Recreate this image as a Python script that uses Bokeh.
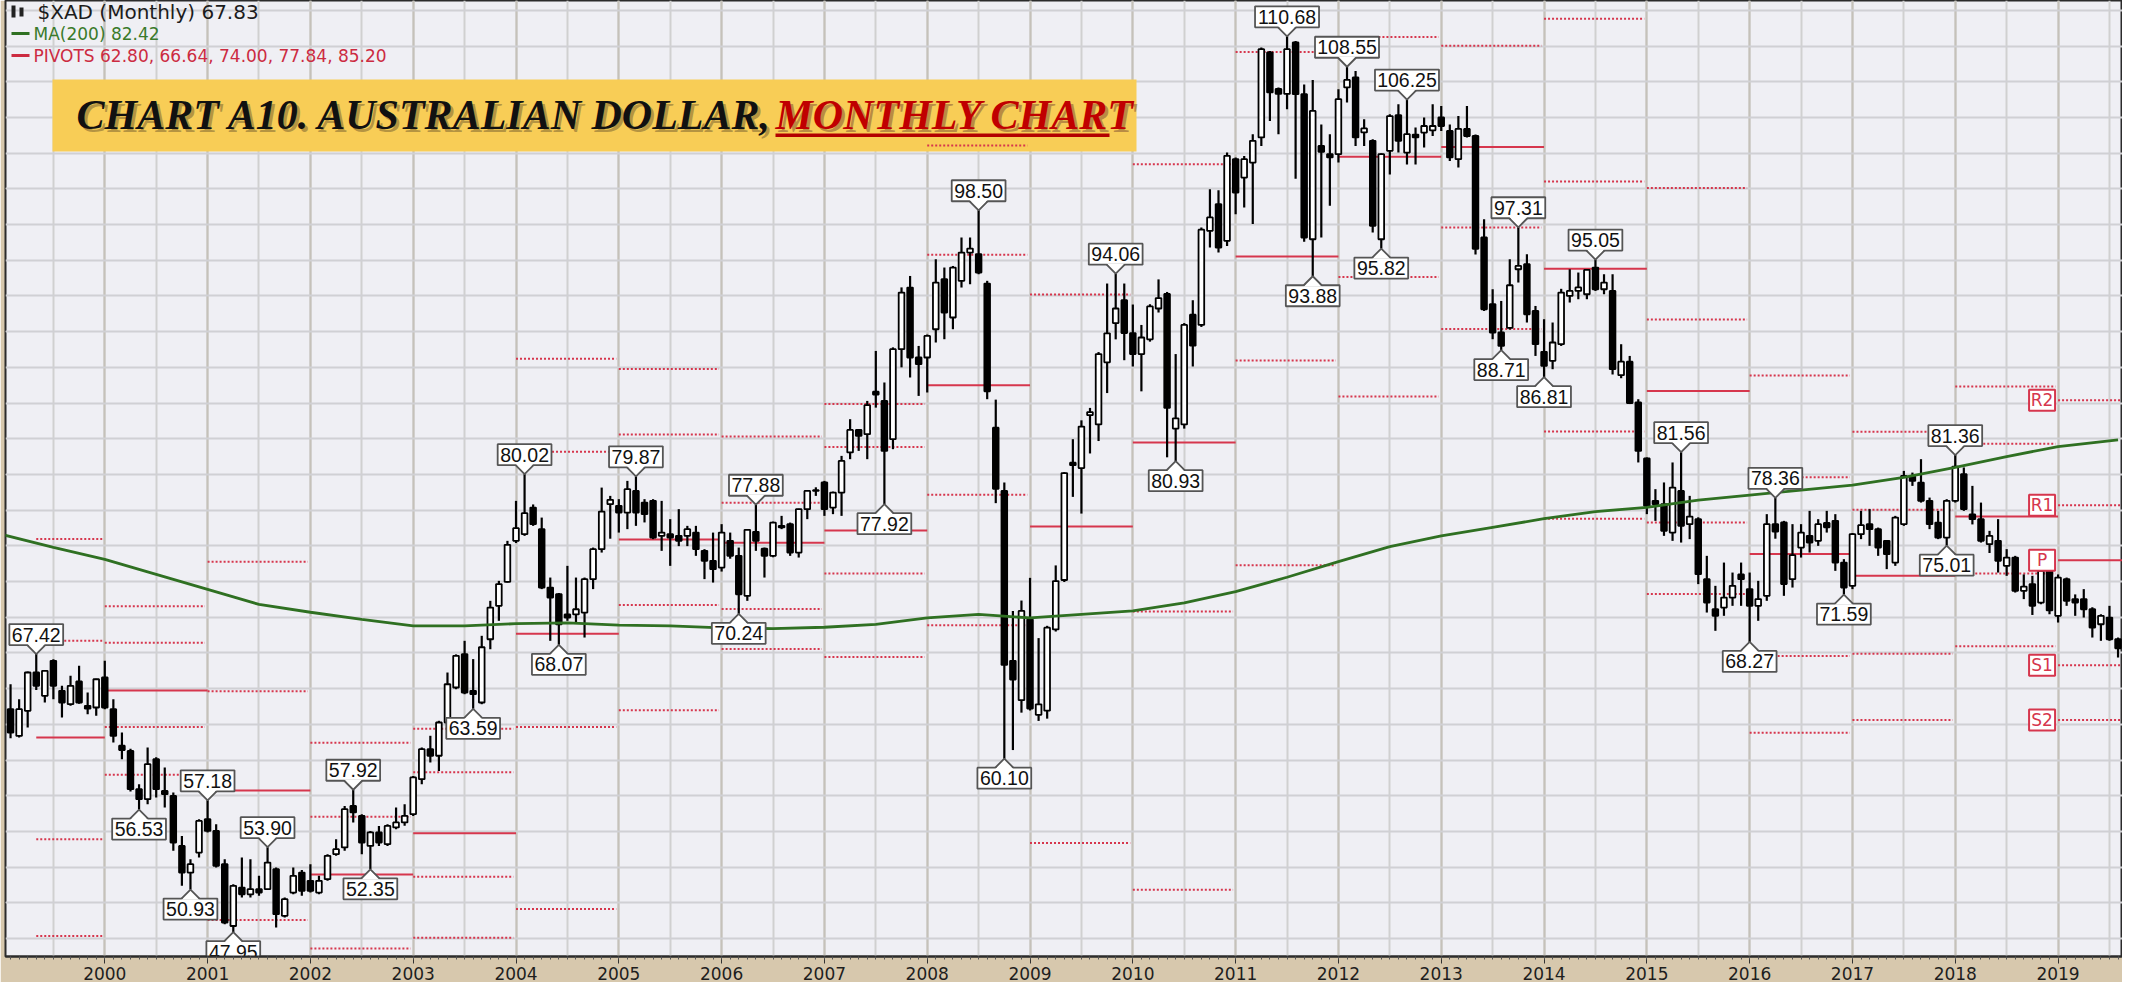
import numpy as np
from bokeh.plotting import figure
from bokeh.models import Range1d, FixedTicker, Grid, Label, BoxAnnotation
from bokeh.core.properties import value
from bokeh.embed import file_html
from bokeh.resources import INLINE

# ---------------- data (month index: 0 = Jan 2000) ----------------
first_month = -11  # Feb 1999

opens = [
    63.56, 61.69, 63.45, 66.13, 64.50, 66.95, 64.85, 63.91, 65.50, 63.80, 63.68,
    65.78, 63.56, 61.00, 60.64, 57.96, 57.26, 60.06, 57.84, 57.49, 53.99, 52.12, 53.52,
    55.86, 55.04, 52.71, 48.38, 51.07, 50.60, 50.96, 50.96, 52.36, 49.09, 50.72, 52.12,
    51.54, 50.72, 51.66, 53.41, 53.88, 56.79, 56.09, 53.99, 54.93, 54.11, 55.28, 55.63,
    56.21, 58.66, 60.76, 60.30, 62.63, 65.08, 67.41, 64.85, 64.03, 68.46, 70.80, 72.48,
    75.35, 75.82, 77.68, 76.17, 72.08, 71.61, 70.20, 70.20, 70.33, 72.67, 74.77, 77.92,
    77.80, 77.33, 78.85, 78.03, 78.15, 75.70, 75.82, 75.70, 75.70, 75.93, 74.65, 73.95,
    73.48, 75.35, 74.30, 71.50, 75.98, 74.80, 74.30, 76.40, 76.52, 74.53, 77.57, 78.85,
    79.44, 77.68, 78.73, 81.54, 83.12, 82.82, 85.80, 85.15, 82.47, 88.77, 93.09, 88.19,
    88.19, 90.17, 93.67, 90.99, 93.56, 95.54, 95.42, 93.37, 83.27, 78.85, 66.95, 64.19,
    69.85, 63.17, 63.46, 69.15, 72.61, 80.82, 80.45, 84.15, 83.50, 87.85, 90.60, 92.20,
    89.90, 88.43, 89.46, 91.62, 92.64, 83.21, 83.50, 91.19, 90.47, 97.06, 98.93, 96.36,
    102.08, 100.79, 101.84, 103.60, 109.55, 107.00, 106.65, 110.25, 106.63, 96.47, 103.00, 102.43,
    102.43, 107.10, 107.80, 103.95, 103.36, 96.47, 102.66, 105.16, 102.54, 103.80, 103.94, 104.10,
    105.00, 104.06, 102.08, 104.20, 103.70, 96.60, 91.92, 89.94, 90.27, 94.37, 94.72, 91.45,
    88.59, 87.96, 89.12, 92.50, 92.85, 92.62, 94.49, 92.97, 92.85, 86.95, 87.90, 85.04,
    81.12, 78.15, 77.92, 75.93, 78.85, 76.52, 76.87, 72.67, 70.56, 70.68, 71.38, 73.00,
    71.97, 70.80, 71.50, 76.52, 76.64, 72.67, 74.88, 75.70, 75.35, 76.60, 76.75, 73.83,
    72.20, 75.82, 76.52, 76.17, 75.35, 73.83, 76.52, 79.85, 79.43, 78.15, 76.63, 75.58,
    78.15, 80.02, 77.20, 76.87, 75.12, 75.35, 73.60, 74.18, 71.85, 72.32, 71.03, 73.72,
    70.10, 72.67, 71.27, 71.27, 70.56, 69.51, 69.98, 68.46,
]
highs = [
    65.31, 64.26, 66.20, 67.42, 66.30, 67.06, 65.20, 65.90, 66.60, 64.73, 65.70,
    66.95, 64.26, 61.93, 60.80, 58.30, 60.88, 60.20, 59.48, 57.73, 54.69, 53.06, 55.86,
    57.18, 55.51, 53.06, 51.31, 53.17, 53.06, 51.89, 53.90, 52.47, 50.37, 52.47, 52.30,
    52.71, 51.89, 53.41, 54.46, 56.79, 57.92, 56.21, 55.04, 55.39, 55.51, 56.68, 56.91,
    58.89, 60.88, 61.70, 62.75, 66.13, 67.40, 68.35, 67.07, 68.70, 71.15, 72.55, 75.35,
    78.15, 80.02, 77.90, 76.98, 72.78, 71.70, 73.60, 72.78, 72.78, 74.88, 79.08, 78.50,
    78.27, 79.55, 79.87, 78.27, 78.27, 78.15, 76.87, 77.57, 76.40, 76.40, 74.77, 75.93,
    76.52, 75.93, 74.88, 76.17, 77.88, 74.88, 76.70, 77.10, 76.63, 77.60, 78.90, 79.10,
    79.55, 78.80, 81.30, 83.87, 83.17, 85.15, 88.65, 86.44, 88.90, 93.10, 93.90, 89.00,
    89.80, 95.07, 94.49, 94.60, 96.60, 96.60, 98.50, 93.56, 85.24, 79.44, 70.44, 71.17,
    72.76, 68.54, 69.40, 73.63, 80.16, 82.47, 83.79, 84.66, 88.57, 93.37, 94.06, 93.37,
    91.90, 90.47, 91.92, 93.66, 92.78, 88.43, 90.60, 92.20, 97.29, 99.98, 99.90, 102.54,
    102.19, 102.30, 103.83, 109.90, 109.66, 107.10, 110.68, 110.36, 107.30, 107.63, 104.50, 103.83,
    106.98, 108.55, 108.26, 104.88, 103.48, 102.50, 105.22, 105.93, 106.25, 104.30, 105.00, 105.93,
    105.80, 104.50, 105.10, 105.80, 103.80, 97.87, 92.97, 92.15, 95.07, 97.31, 95.42, 91.80,
    90.87, 90.64, 93.00, 94.37, 94.14, 94.37, 95.05, 94.02, 94.02, 89.12, 88.30, 85.27,
    81.19, 78.97, 79.44, 80.84, 81.56, 78.50, 77.00, 74.30, 72.20, 73.83, 73.13, 73.83,
    73.13, 72.55, 77.22, 78.36, 76.75, 76.52, 76.52, 77.45, 76.87, 77.45, 77.22, 74.07,
    75.90, 77.45, 77.57, 76.28, 75.40, 77.10, 80.25, 80.13, 81.07, 78.38, 77.45, 78.27,
    81.36, 80.49, 79.20, 78.03, 76.05, 76.87, 74.77, 74.30, 73.00, 72.90, 73.95, 73.83,
    73.00, 72.78, 71.60, 71.97, 70.70, 70.21, 70.80, 68.58,
]
lows = [
    61.52, 61.58, 62.28, 64.90, 64.03, 64.26, 62.98, 63.80, 63.95, 63.21, 63.10,
    63.56, 61.23, 60.06, 57.80, 56.53, 56.90, 57.38, 56.68, 53.64, 51.19, 50.93, 53.17,
    54.93, 52.47, 48.50, 47.95, 50.37, 50.37, 50.49, 50.90, 48.27, 48.97, 50.60, 50.49,
    50.72, 50.60, 51.54, 53.29, 53.64, 55.63, 53.41, 52.35, 53.99, 53.99, 55.16, 55.40,
    56.09, 58.31, 59.83, 59.24, 62.40, 64.96, 64.61, 63.59, 63.91, 67.76, 69.75, 72.43,
    75.20, 75.70, 76.40, 71.97, 68.35, 68.07, 69.75, 69.63, 68.58, 71.97, 74.53, 75.50,
    75.93, 76.17, 76.40, 76.64, 75.47, 74.65, 73.60, 74.98, 74.98, 74.30, 72.67, 72.43,
    73.20, 74.10, 70.24, 71.15, 74.65, 72.78, 74.20, 76.17, 74.30, 74.18, 76.87, 78.50,
    77.10, 77.22, 77.10, 81.07, 81.65, 81.07, 84.68, 77.92, 81.77, 87.50, 86.79, 85.50,
    85.74, 89.24, 89.47, 90.17, 93.09, 93.32, 94.02, 85.27, 77.99, 60.10, 60.70, 63.32,
    63.47, 62.74, 62.90, 69.00, 72.47, 78.43, 77.26, 81.47, 82.34, 85.70, 89.46, 88.00,
    87.56, 85.82, 89.30, 91.34, 81.20, 80.93, 83.21, 87.56, 90.33, 95.89, 95.54, 96.00,
    98.23, 98.70, 97.53, 103.00, 104.76, 103.83, 105.58, 100.70, 96.30, 93.88, 96.60, 98.81,
    101.84, 106.05, 103.00, 103.00, 96.94, 95.82, 101.00, 102.54, 101.70, 101.70, 102.90, 103.70,
    104.06, 101.95, 101.50, 103.60, 95.40, 91.45, 89.47, 88.71, 90.15, 93.44, 90.64, 88.30,
    86.81, 87.37, 89.00, 92.04, 92.27, 92.27, 92.85, 92.62, 87.00, 86.74, 84.93, 80.84,
    77.22, 76.75, 75.70, 75.35, 75.23, 75.47, 72.32, 70.33, 69.05, 70.10, 70.80, 70.80,
    68.27, 69.75, 71.15, 75.50, 71.50, 72.08, 74.18, 74.53, 75.00, 75.93, 73.25, 71.59,
    71.97, 75.47, 75.00, 74.30, 73.37, 73.60, 76.40, 79.20, 78.03, 76.17, 75.47, 75.01,
    78.03, 77.45, 76.50, 75.23, 74.50, 73.13, 72.90, 71.73, 71.27, 70.16, 70.91, 70.21,
    69.63, 70.80, 70.10, 69.98, 68.58, 68.35, 68.35, 67.18,
]
closes = [
    61.93, 63.56, 66.13, 65.20, 66.25, 65.20, 64.03, 65.20, 64.03, 63.60, 65.66,
    63.68, 61.69, 60.70, 57.96, 57.26, 59.71, 57.96, 57.61, 54.22, 52.12, 52.71, 55.74,
    55.04, 52.59, 48.62, 51.19, 50.60, 50.96, 50.72, 52.82, 49.21, 50.26, 51.89, 50.84,
    50.84, 51.54, 53.29, 53.76, 56.56, 56.33, 54.22, 54.93, 54.22, 55.39, 55.63, 56.09,
    58.78, 60.76, 60.30, 62.63, 65.31, 67.30, 64.73, 64.61, 67.90, 70.68, 72.32, 75.07,
    76.24, 77.29, 76.52, 72.08, 71.38, 69.51, 69.98, 70.56, 72.67, 74.77, 77.40, 78.22,
    77.33, 78.97, 77.33, 77.22, 75.58, 75.93, 75.58, 75.35, 76.17, 74.77, 73.95, 73.37,
    75.93, 74.30, 71.61, 76.12, 75.35, 74.30, 76.63, 76.29, 74.53, 77.57, 78.85, 78.90,
    77.57, 78.73, 80.95, 83.12, 82.70, 84.85, 85.60, 81.65, 88.77, 92.74, 88.19, 87.72,
    89.70, 93.44, 91.34, 94.49, 95.54, 95.82, 94.14, 85.82, 79.00, 66.66, 65.64, 70.44,
    63.61, 63.90, 69.27, 72.53, 80.10, 80.65, 83.35, 84.37, 88.43, 89.88, 91.62, 89.90,
    88.43, 89.59, 91.77, 92.35, 84.66, 83.93, 90.47, 89.02, 97.14, 98.00, 95.89, 102.31,
    99.74, 102.08, 103.36, 109.78, 106.75, 106.65, 109.78, 106.63, 96.59, 105.46, 102.60, 102.20,
    106.28, 107.63, 103.60, 104.23, 97.41, 102.43, 105.10, 103.36, 103.83, 103.60, 104.40, 104.40,
    104.40, 102.20, 104.20, 103.70, 95.80, 91.57, 89.94, 89.00, 93.25, 94.60, 91.22, 89.12,
    87.60, 89.24, 92.74, 92.85, 93.10, 94.32, 92.97, 93.44, 87.37, 87.90, 85.00, 81.65,
    77.80, 77.92, 76.05, 79.08, 76.40, 77.05, 73.02, 71.03, 70.10, 71.38, 72.20, 72.67,
    70.80, 71.27, 76.52, 76.00, 72.32, 74.35, 75.93, 75.23, 76.52, 76.30, 73.83, 72.08,
    75.82, 76.45, 76.17, 74.88, 74.42, 76.98, 79.90, 79.55, 78.15, 76.52, 75.58, 78.15,
    80.55, 77.57, 76.87, 75.35, 75.70, 73.95, 74.18, 71.85, 72.15, 70.80, 73.25, 70.48,
    72.78, 71.15, 71.03, 70.56, 69.28, 70.10, 68.46, 67.83,
]

# 1998 yearly high / low / close (feeds the 1999 pivot levels)
prev_year_high, prev_year_low, prev_year_close = 68.70, 54.80, 61.24

# 200-month moving average
ma_months = [-12, -6, 0, 6, 12, 18, 24, 30, 36, 42, 48, 54, 60, 66, 72, 78, 84, 90, 96, 102,
             108, 114, 120, 126, 132, 138, 144, 150, 156, 162, 168, 174, 180, 186, 192, 198,
             204, 210, 216, 222, 228, 235]
ma_values = [75.8, 74.9, 74.05, 73.0, 71.95, 70.9, 70.35, 69.85, 69.4, 69.4, 69.55, 69.6,
             69.45, 69.4, 69.25, 69.2, 69.3, 69.5, 69.95, 70.2, 69.95, 70.2, 70.45, 71.0,
             71.8, 72.8, 73.9, 74.95, 75.7, 76.3, 76.9, 77.4, 77.7, 78.2, 78.55, 78.9,
             79.25, 79.8, 80.5, 81.25, 81.95, 82.42]

# swing labels (month, high/low)
label_months = [-8, 4, 10, 12, 15, 19, 29, 31, 43, 49, 53, 62, 74, 76, 91, 102, 105, 118,
                125, 138, 141, 145, 149, 152, 163, 165, 168, 174, 184, 192, 195, 203, 215, 216]
label_kinds = ["H", "L", "L", "H", "L", "H", "H", "L", "L", "H", "L", "H", "L", "H", "L", "H", "L", "H",
               "L", "H", "L", "H", "L", "H", "L", "H", "L", "H", "H", "L", "H", "L", "L", "H"]

year_ticks = list(range(0, 229, 12))
year_labels = [str(2000 + k) for k in range(len(year_ticks))]
pivot_years = list(range(1999, 2020))

# ---------------- layout / scales ----------------
PPX, PPY = 8.567, 14.28          # px per month, px per cent
FRAME_W, FRAME_H = 2117, 956
X_LEFT, Y_TOP = -11.59, 113.19
FRAME_LEFT_ABS, FRAME_TOP_ABS = 13, 8
x_end = X_LEFT + FRAME_W / PPX
y_bottom = Y_TOP - FRAME_H / PPY


def dx(px):
    return px / PPX


def dy(px):
    return px / PPY


def ax2m(ax):
    return X_LEFT + (ax - FRAME_LEFT_ABS) / PPX


def ay2v(ay):
    return Y_TOP - (ay - FRAME_TOP_ABS) / PPY


o = np.array(opens); h = np.array(highs); l = np.array(lows); c = np.array(closes)
months = np.arange(first_month, first_month + len(o))

p = figure(frame_width=FRAME_W, frame_height=FRAME_H,
           x_range=Range1d(X_LEFT, x_end), y_range=Range1d(y_bottom, Y_TOP),
           output_backend="svg", toolbar_location=None, y_axis_location=None,
           min_border_left=5, min_border_right=0, min_border_top=0, min_border_bottom=0,
           background_fill_color="#efeff4", border_fill_color="#d7c8ad")
p.outline_line_color = "#2b2b2b"
p.outline_line_width = 2

xa = p.xaxis[0]
xa.ticker = FixedTicker(ticks=year_ticks, minor_ticks=[int(m) for m in months])
xa.major_label_overrides = {t: s for t, s in zip(year_ticks, year_labels)}
xa.major_label_text_font = "DejaVu Sans"
xa.major_label_text_font_size = "17px"
xa.major_label_text_color = "#1e1e1e"
xa.major_label_standoff = 3
xa.axis_line_color = "#2b2b2b"
xa.axis_line_width = 2
xa.major_tick_in = 0
xa.major_tick_out = 7
xa.minor_tick_in = 0
xa.minor_tick_out = 3
xa.major_tick_line_color = "#333333"
xa.minor_tick_line_color = "#555555"

p.xgrid.ticker = FixedTicker(ticks=list(range(-6, 236, 6)))
p.xgrid.grid_line_color = "#d0d0d0"
p.xgrid.grid_line_width = 2
p.add_layout(Grid(dimension=0, ticker=FixedTicker(ticks=year_ticks),
                  grid_line_color="#c5c1b9", grid_line_width=2))
p.add_layout(Grid(dimension=1, ticker=FixedTicker(ticks=list(np.arange(45, 115.1, 2.5))),
                  grid_line_color="#d0d0d4", grid_line_width=2))

# title box (under the glyphs, over the grid)
p.add_layout(BoxAnnotation(left=ax2m(60), right=ax2m(1144), top=ay2v(87), bottom=ay2v(159),
                           fill_color="#f8cd56", fill_alpha=1.0, line_color=None, level="underlay"))

# ---------------- yearly pivot levels ----------------
PIVOT_COLOR = "#d6364d"
piv = {k: [] for k in ["x0", "x1", "P", "R1", "R2", "S1", "S2"]}
for yr in pivot_years:
    if yr == 1999:
        hh, ll, cc = prev_year_high, prev_year_low, prev_year_close
        x0 = first_month + 3
    else:
        sel = (months >= 12 * (yr - 2001)) & (months < 12 * (yr - 2000))
        hh, ll, cc = h[sel].max(), l[sel].min(), c[sel][-1]
        x0 = 12 * (yr - 2000)
    pp = (hh + ll + cc) / 3.0
    piv["x0"].append(x0)
    piv["x1"].append(min(12 * (yr - 1999), x_end))
    piv["P"].append(pp)
    piv["R1"].append(2 * pp - ll)
    piv["S1"].append(2 * pp - hh)
    piv["R2"].append(pp + (hh - ll))
    piv["S2"].append(pp - (hh - ll))
for k in piv:
    piv[k] = np.array(piv[k], dtype=float)

x1_dot = np.where(piv["x1"] >= x_end, piv["x1"], piv["x1"] - 0.3)
for key in ["R2", "R1", "S1", "S2"]:
    p.segment(piv["x0"], piv[key], x1_dot, piv[key], line_color=PIVOT_COLOR,
              line_width=2, line_dash="2 2")
p.segment(piv["x0"], piv["P"], piv["x1"], piv["P"], line_color=PIVOT_COLOR, line_width=2)

# ---------------- candles ----------------
up = c >= o
p.segment(months, h, months, l, line_color="black", line_width=2.2)
p.vbar(x=months[up], width=0.66, top=c[up], bottom=o[up], fill_color="white",
       line_color="black", line_width=1.8)
p.vbar(x=months[~up], width=0.66, top=o[~up], bottom=c[~up], fill_color="black",
       line_color="black", line_width=1.8)

# moving average
p.line(ma_months, ma_values, line_color="#2f7022", line_width=2.8)

# ---------------- swing labels ----------------
idx = np.array(label_months) - first_month
is_high = np.array([k == "H" for k in label_kinds])
lab_x = np.array(label_months, dtype=float)
lab_v = np.where(is_high, h[idx], l[idx])
sgn = np.where(is_high, 1.0, -1.0)
texts = [f"{v:.2f}" for v in lab_v]
TRI_H, TRI_W, BOX_H = 9, 18, 21
box_y = lab_v + sgn * dy(TRI_H + BOX_H / 2)
box_w = [10.2 * len(t.replace(".", "")) + 13 for t in texts]
p.rect(x=lab_x, y=box_y, width=box_w, height=BOX_H, width_units="screen", height_units="screen",
       fill_color="white", line_color="#555555", line_width=1.8)
tri_xs = [[m - dx(TRI_W / 2), m + dx(TRI_W / 2), m] for m in lab_x]
tri_ys = [[v + s * dy(TRI_H + 1.3), v + s * dy(TRI_H + 1.3), v] for v, s in zip(lab_v, sgn)]
p.patches(tri_xs, tri_ys, fill_color="white", line_color=None)
side_xs = [[m - dx(TRI_W / 2), m, m + dx(TRI_W / 2)] for m in lab_x]
side_ys = [[v + s * dy(TRI_H), v, v + s * dy(TRI_H)] for v, s in zip(lab_v, sgn)]
p.multi_line(side_xs, side_ys, line_color="#555555", line_width=1.8)
p.text(x=lab_x, y=box_y, text=texts, text_align="center", text_baseline="middle",
       text_font=value("Liberation Sans"), text_font_size="19.5px", text_color="#111111")

# ---------------- current pivot tags ----------------
tag_names = ["R2", "R1", "P", "S1", "S2"]
tag_vals = [piv[k][-1] for k in tag_names]
tag_x = [piv["x0"][-1] - dx(16)] * len(tag_names)
p.rect(x=tag_x, y=tag_vals, width=26, height=21, width_units="screen", height_units="screen",
       fill_color="white", line_color=PIVOT_COLOR, line_width=2)
p.text(x=tag_x, y=tag_vals, text=tag_names, text_align="center", text_baseline="middle",
       text_font=value("DejaVu Sans"), text_font_size="17px", text_color=PIVOT_COLOR)

# ---------------- legend ----------------
p.add_layout(BoxAnnotation(left=ax2m(19), right=ax2m(23), top=ay2v(13), bottom=ay2v(25),
                           fill_color="#222222", fill_alpha=1, line_color=None))
p.add_layout(BoxAnnotation(left=ax2m(27), right=ax2m(31), top=ay2v(15), bottom=ay2v(24),
                           fill_color="#222222", fill_alpha=1, line_color=None))
p.add_layout(Label(x=ax2m(45), y=ay2v(19), text=f"$XAD (Monthly) {c[-1]:.2f}",
                   text_font="DejaVu Sans", text_font_size="20px", text_color="#1c1c1c",
                   text_baseline="middle"))
p.add_layout(BoxAnnotation(left=ax2m(19), right=ax2m(37), top=ay2v(39.5), bottom=ay2v(42.5),
                           fill_color="#2f7022", fill_alpha=1, line_color=None))
p.add_layout(Label(x=ax2m(41), y=ay2v(41), text=f"MA(200) {ma_values[-1]:.2f}",
                   text_font="DejaVu Sans", text_font_size="17px", text_color="#3a7a2a",
                   text_baseline="middle"))
pivot_now = sorted(tag_vals)
p.add_layout(BoxAnnotation(left=ax2m(19), right=ax2m(37), top=ay2v(61.5), bottom=ay2v(64.5),
                           fill_color="#cc2b41", fill_alpha=1, line_color=None))
p.add_layout(Label(x=ax2m(41), y=ay2v(63), text="PIVOTS " + ", ".join(f"{v:.2f}" for v in pivot_now),
                   text_font="DejaVu Sans", text_font_size="17px", text_color="#cc2b41",
                   text_baseline="middle"))

# ---------------- title ----------------
for col, alpha, xo, yo in [("#7a6330", 0.55, 3, -3), ("#111111", 1.0, 0, 0)]:
    p.add_layout(Label(x=ax2m(84), y=ay2v(122), text="CHART A10. AUSTRALIAN DOLLAR,",
                       text_font="Liberation Serif", text_font_style="bold italic",
                       text_font_size="42px", text_color=col, text_alpha=alpha,
                       x_offset=xo, y_offset=yo, text_baseline="middle"))
for col, alpha, xo, yo in [("#7a4a30", 0.5, 3, -3), ("#c00000", 1.0, 0, 0)]:
    p.add_layout(Label(x=ax2m(783), y=ay2v(122), text="MONTHLY CHART",
                       text_font="Liberation Serif", text_font_style="bold italic",
                       text_font_size="42px", text_color=col, text_alpha=alpha,
                       x_offset=xo, y_offset=yo, text_baseline="middle"))
p.add_layout(BoxAnnotation(left=ax2m(783), right=ax2m(1117), top=ay2v(141), bottom=ay2v(144.5),
                           fill_color="#b30000", fill_alpha=1, line_color=None))

open("out.html", "w").write(file_html(p, INLINE, title="Australian Dollar monthly chart"))
